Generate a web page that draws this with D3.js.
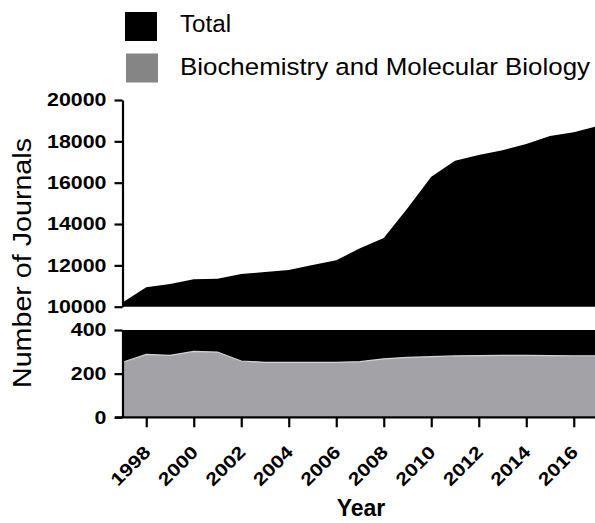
<!DOCTYPE html>
<html>
<head>
<meta charset="utf-8">
<script src="https://cdn.jsdelivr.net/npm/d3@7"></script>
<style>
    body { margin: 0; background: #fff; }
    svg { display: block; font-family: "Liberation Sans", Arial, sans-serif; }
</style>
</head>
<body>
<div id="chart"></div>
<script>
// Data
const years = [1997, 1998, 1999, 2000, 2001, 2002, 2003, 2004, 2005, 2006, 2007,
               2008, 2009, 2010, 2011, 2012, 2013, 2014, 2015, 2016, 2017];
const totalJournals = [10200, 10940, 11100, 11325, 11355, 11580, 11680, 11775, 12020, 12245, 12825,
                       13320, 14760, 16290, 17065, 17340, 17565, 17870, 18260, 18435, 18740];
const biochemJournals = [252, 288, 284, 302, 299, 258, 252, 252, 252, 252, 255,
                         268, 275, 278, 281, 283, 284, 284, 283, 282, 282];
const xTicks = [1998, 2000, 2002, 2004, 2006, 2008, 2010, 2012, 2014, 2016];
const yTicksTop = [10000, 12000, 14000, 16000, 18000, 20000];
const yTicksBottom = [0, 200, 400];
const seriesNames = ["Total", "Biochemistry and Molecular Biology"];

const WIDTH = 595, HEIGHT = 523;
const GRAY = "#a3a2a7";

const data = years.map((y, i) => ({ year: y, total: totalJournals[i], bio: biochemJournals[i] }));

const svg = d3.select("#chart").append("svg")
    .attr("width", WIDTH)
    .attr("height", HEIGHT);

// scales: one x, two y segments (broken axis)
const x = d3.scaleLinear().domain([1997, 2017]).range([122.5, 597.5]);
const yTop = d3.scaleLinear().domain([10000, 20000]).range([306.7, 100]);
const yBottom = d3.scaleLinear().domain([0, 400]).range([417.3, 330]);

// top panel - total
const areaTop = d3.area()
    .x(d => x(d.year))
    .y0(yTop(10000))
    .y1(d => yTop(Math.max(d.total, 10000)));

svg.append("path")
    .datum(data)
    .attr("d", areaTop)
    .attr("fill", "#000");

// bottom panel - total (clipped at 400) then biochemistry
const areaBottomTotal = d3.area()
    .x(d => x(d.year))
    .y0(yBottom(0))
    .y1(d => yBottom(Math.min(d.total, 400)));

svg.append("path")
    .datum(data)
    .attr("d", areaBottomTotal)
    .attr("fill", "#000");

const areaBio = d3.area()
    .x(d => x(d.year))
    .y0(yBottom(0))
    .y1(d => yBottom(d.bio));

svg.append("path")
    .datum(data)
    .attr("d", areaBio)
    .attr("fill", GRAY)
    .attr("stroke", "#d2d2d6")
    .attr("stroke-width", 1.2);

// axes
function styleAxis(g) {
    g.select(".domain").attr("stroke", "#000").attr("stroke-width", 2.2);
    g.selectAll(".tick line").attr("stroke", "#000").attr("stroke-width", 2.2);
    g.selectAll(".tick text")
        .attr("fill", "#000")
        .style("font-size", "18px")
        .style("font-weight", "bold")
        .attr("lengthAdjust", "spacingAndGlyphs")
        .attr("textLength", function () { return this.textContent.length * 11.9; });
}

svg.append("g")
    .attr("transform", `translate(${x(1997)},0)`)
    .call(d3.axisLeft(yTop).tickValues(yTicksTop).tickFormat(d3.format("d"))
        .tickSize(8).tickSizeOuter(0).tickPadding(8))
    .call(styleAxis);

svg.append("g")
    .attr("transform", `translate(${x(1997)},0)`)
    .call(d3.axisLeft(yBottom).tickValues(yTicksBottom).tickFormat(d3.format("d"))
        .tickSize(8).tickSizeOuter(0).tickPadding(8))
    .call(styleAxis);

const xAxis = svg.append("g")
    .attr("transform", `translate(0,${yBottom(0)})`)
    .call(d3.axisBottom(x).tickValues(xTicks).tickFormat(d3.format("d"))
        .tickSize(10).tickSizeOuter(0))
    .call(styleAxis);

xAxis.selectAll(".tick text")
    .attr("text-anchor", "end")
    .attr("dy", 0)
    .attr("y", 0)
    .attr("transform", "translate(5,36) rotate(-45)");

xAxis.selectAll(".domain").attr("d", `M115,0H${WIDTH}`);

// axis titles
svg.append("text")
    .attr("transform", "translate(31,263) rotate(-90)")
    .attr("text-anchor", "middle")
    .attr("textLength", 250)
    .attr("lengthAdjust", "spacingAndGlyphs")
    .style("font-size", "25px")
    .text("Number of Journals");

svg.append("text")
    .attr("x", 361)
    .attr("y", 516)
    .attr("text-anchor", "middle")
    .style("font-size", "23px")
    .style("font-weight", "bold")
    .text("Year");

// legend
const legendColors = ["#000", "#858585"];
const legend = svg.append("g").attr("class", "legend-group");

legend.selectAll(".legend")
    .data(seriesNames)
    .join("g")
    .attr("class", "legend")
    .attr("transform", (d, i) => `translate(${125 + i}, ${12 + i * 41.5})`)
    .each(function (d, i) {
        const item = d3.select(this);
        item.append("rect")
            .attr("width", 32)
            .attr("height", 29)
            .attr("fill", legendColors[i]);
        item.append("text")
            .attr("x", 55 - i)
            .attr("y", 19.5 + i * 1.5)
            .style("font-size", i === 0 ? "23.5px" : "24.5px")
            .attr("textLength", i === 0 ? 51 : 410)
            .attr("lengthAdjust", "spacingAndGlyphs")
            .text(d);
    });
</script>
</body>
</html>
